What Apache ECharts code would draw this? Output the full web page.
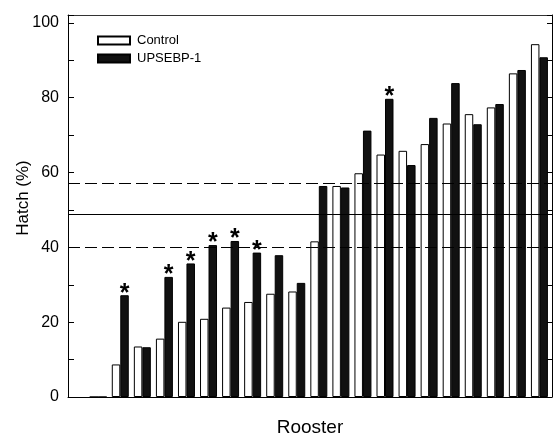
<!DOCTYPE html>
<html>
<head>
<meta charset="utf-8">
<script src="https://cdn.jsdelivr.net/npm/echarts@6/dist/echarts.min.js"></script>
<style>
html,body{margin:0;padding:0;background:#fff;}
#chart{width:555px;height:437px;}
</style>
</head>
<body>
<div id="chart"></div>
<script>
// Rooster index (1..21)
var roosters = [1,2,3,4,5,6,7,8,9,10,11,12,13,14,15,16,17,18,19,20,21];
// Hatch (%) per rooster
var control  = [0, 8.7, 13.5, 15.6, 20.1, 20.9, 23.9, 25.4, 27.6, 28.2, 41.6, 56.4, 59.8, 64.8, 65.8, 67.6, 73.1, 75.6, 77.4, 86.5, 94.3];
var upsebp1  = [0, 27.2, 13.3, 32.1, 35.7, 40.6, 41.7, 38.6, 37.9, 30.5, 56.4, 56.0, 71.2, 79.7, 62.0, 74.6, 83.9, 72.9, 78.3, 87.4, 90.8];
// significance markers (*) on UPSEBP-1 bars
var significant = [false, true, false, true, true, true, true, true, false, false, false, false, false, true, false, false, false, false, false, false, false];
// reference lines: upper dashed, solid (mean), lower dashed
var refUpper = 57.1;
var refMean = 48.8;
var refLower = 40.1;
var yTicks = [0, 20, 40, 60, 80, 100];

var FONT = 'Liberation Sans, Arial, Helvetica, sans-serif';

function pairs(vals) {
  return roosters.map(function (r, i) { return [r, vals[i]]; });
}

var chart = echarts.init(document.getElementById('chart'), null, {renderer: 'canvas'});

var option = {
  animation: false,
  backgroundColor: '#ffffff',
  grid: {left: 68, right: 3, top: 15, bottom: 40, containLabel: false, outerBoundsMode: 'none'},
  legend: {
    orient: 'vertical',
    left: 97, top: 34,
    padding: 0,
    itemWidth: 32, itemHeight: 8, itemGap: 5,
    icon: 'rect',
    textStyle: {fontFamily: FONT, fontSize: 13, color: '#000', padding: [0,0,0,2]},
    data: ['Control', 'UPSEBP-1']
  },
  xAxis: [{
    type: 'value',
    min: -0.37, max: 21.57,
    position: 'bottom',
    name: 'Rooster',
    nameLocation: 'middle',
    nameGap: 21,
    nameMoveOverlap: false,
    nameTextStyle: {fontFamily: FONT, fontSize: 19, color: '#000'},
    axisLine: {show: true, onZero: false, lineStyle: {color: '#000', width: 1}},
    axisTick: {show: false},
    axisLabel: {show: false},
    splitLine: {show: false}
  }, {
    type: 'value',
    min: -0.37, max: 21.57,
    position: 'top',
    axisLine: {show: true, onZero: false, lineStyle: {color: '#333', width: 1}},
    axisTick: {show: false},
    axisLabel: {show: false},
    splitLine: {show: false}
  }],
  yAxis: [{
    type: 'value',
    min: 0, max: 102.1, interval: 20,
    position: 'left',
    name: 'Hatch (%)',
    nameLocation: 'middle',
    nameRotate: 90,
    nameGap: 36,
    nameMoveOverlap: false,
    nameTextStyle: {fontFamily: FONT, fontSize: 17, color: '#000', padding: [0,0,0,16]},
    axisLine: {show: true, onZero: false, lineStyle: {color: '#000', width: 1}},
    axisTick: {show: true, inside: true, length: 6, lineStyle: {color: '#000'}},
    minorTick: {show: true, splitNumber: 2, length: 6, lineStyle: {color: '#000'}},
    axisLabel: {
      margin: 9, fontFamily: FONT, fontSize: 16, color: '#000',
      formatter: function (v) { return yTicks.indexOf(v) >= 0 ? String(v) : ''; }
    },
    splitLine: {show: false}
  }, {
    type: 'value',
    min: 0, max: 102.1, interval: 20,
    position: 'right',
    axisLine: {show: true, onZero: false, lineStyle: {color: '#000', width: 1}},
    axisTick: {show: true, inside: true, length: 5, lineStyle: {color: '#000'}},
    minorTick: {show: true, splitNumber: 2, length: 5, lineStyle: {color: '#000'}},
    axisLabel: {show: false},
    splitLine: {show: false}
  }],
  series: [{
    name: 'Control',
    type: 'bar',
    xAxisIndex: 0, yAxisIndex: 0,
    data: pairs(control),
    barGap: '0%',
    barCategoryGap: '23%',
    itemStyle: {color: '#ffffff', borderColor: '#000', borderWidth: 1},
    markLine: {
      silent: true,
      symbol: 'none',
      label: {show: false},
      z: 10,
      data: [
        {yAxis: refUpper, lineStyle: {type: [12, 5], color: '#000', width: 1}},
        {yAxis: refMean, lineStyle: {type: 'solid', color: '#000', width: 1}},
        {yAxis: refLower, lineStyle: {type: [12, 5], color: '#000', width: 1}}
      ]
    }
  }, {
    name: 'UPSEBP-1',
    type: 'bar',
    xAxisIndex: 0, yAxisIndex: 0,
    data: pairs(upsebp1),
    barGap: '0%',
    barCategoryGap: '23%',
    itemStyle: {color: '#111111', borderColor: '#000', borderWidth: 1},
    label: {
      show: true,
      position: 'top',
      distance: 0,
      offset: [0, 11],
      fontFamily: FONT,
      fontSize: 25,
      fontWeight: 'bold',
      color: '#000',
      formatter: function (p) { return significant[p.dataIndex] ? '*' : ''; }
    }
  }]
};
chart.setOption(option);
</script>
</body>
</html>
